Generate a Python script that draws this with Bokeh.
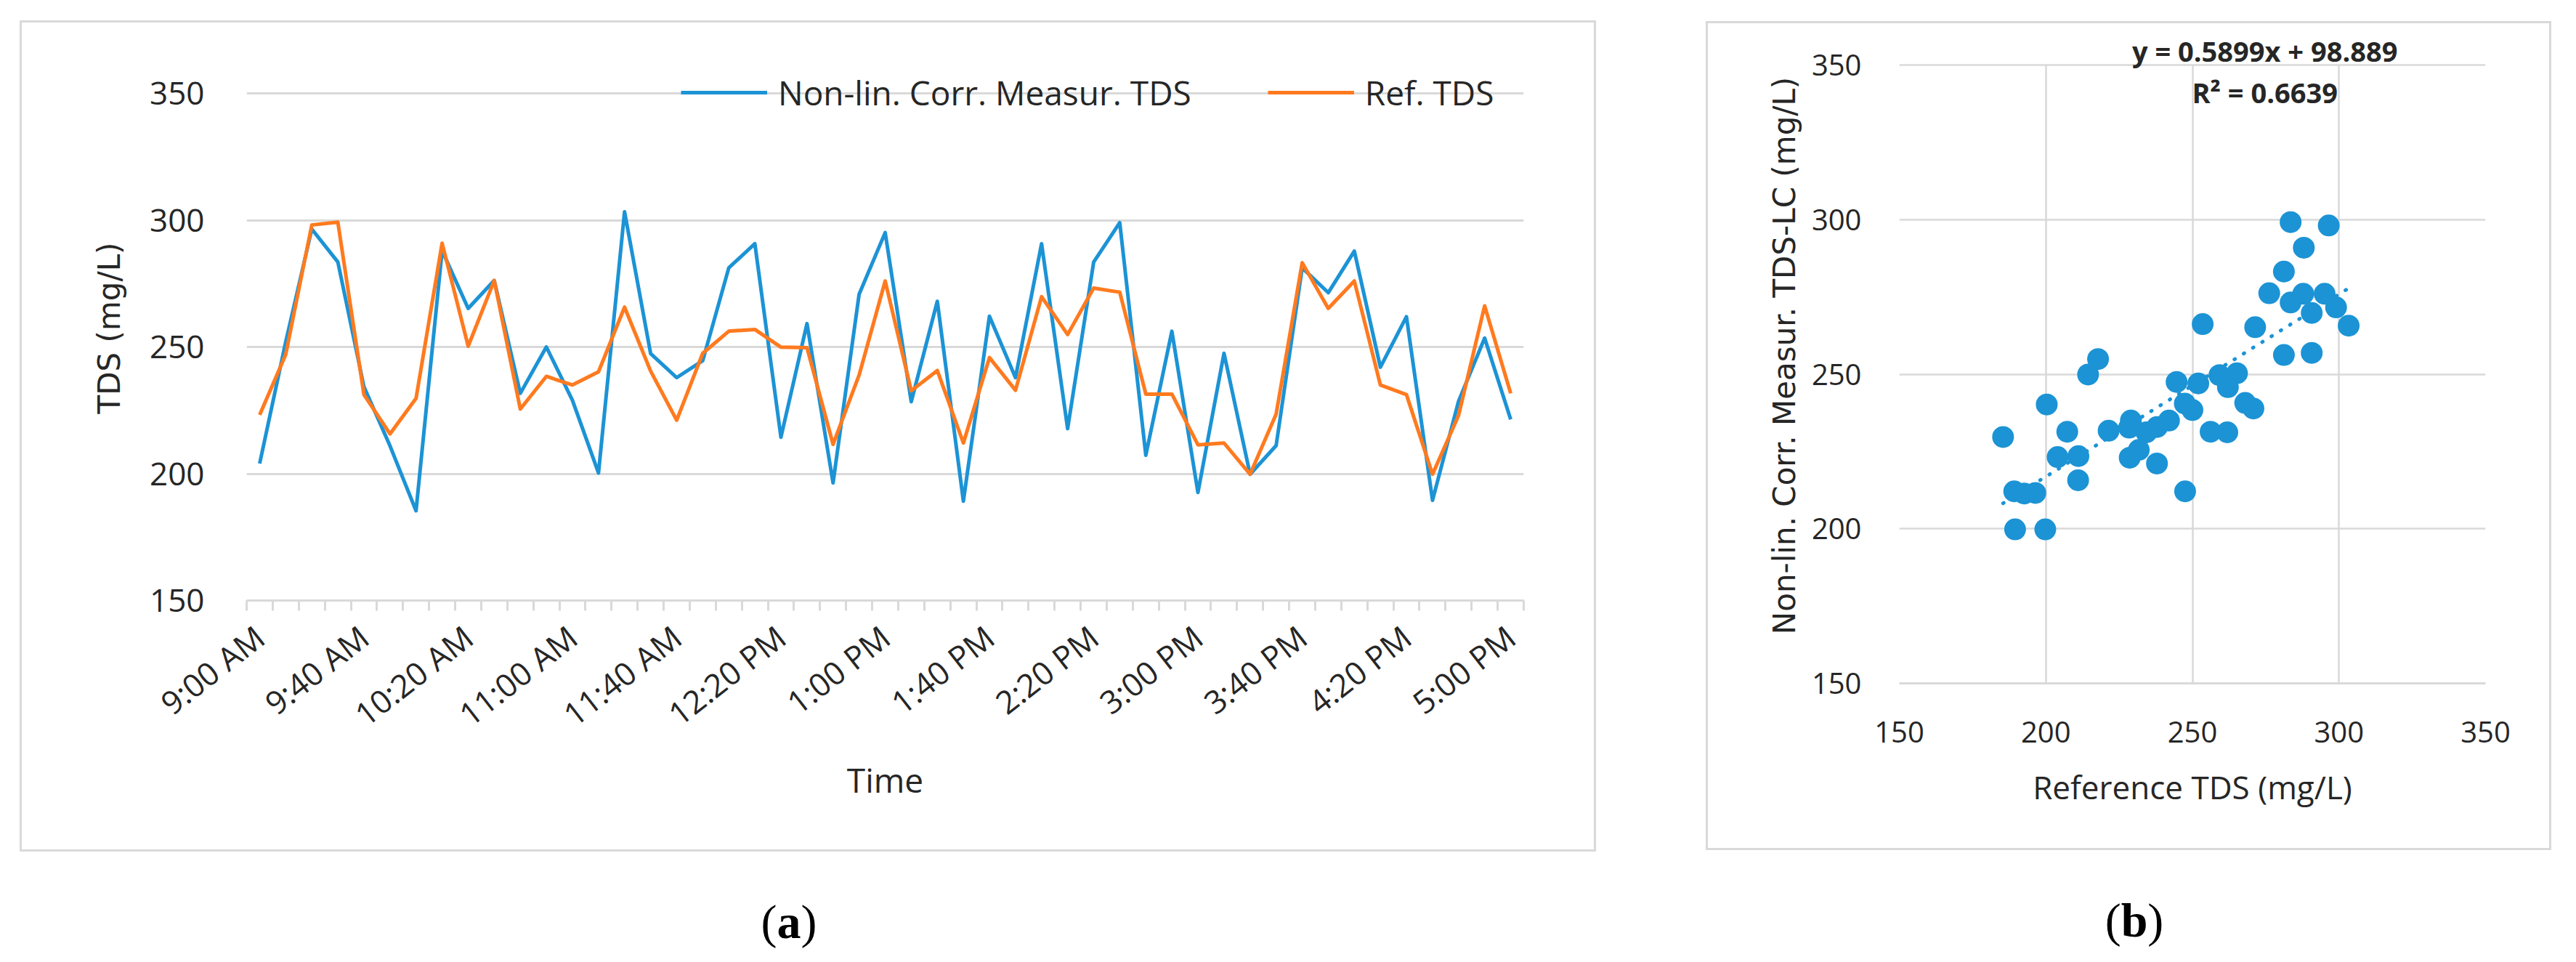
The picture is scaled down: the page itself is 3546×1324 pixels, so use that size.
import math
from bokeh.plotting import figure
from bokeh.models import (FixedTicker, Legend, LegendItem, Label, Div, Spacer, Range1d)
from bokeh.layouts import row, column
from bokeh.embed import file_html
from bokeh.resources import INLINE

# ---------------- data ----------------
times = ["9:00 AM", "9:10 AM", "9:20 AM", "9:30 AM", "9:40 AM", "9:50 AM",
         "10:00 AM", "10:10 AM", "10:20 AM", "10:30 AM", "10:40 AM", "10:50 AM",
         "11:00 AM", "11:10 AM", "11:20 AM", "11:30 AM", "11:40 AM", "11:50 AM",
         "12:00 PM", "12:10 PM", "12:20 PM", "12:30 PM", "12:40 PM", "12:50 PM",
         "1:00 PM", "1:10 PM", "1:20 PM", "1:30 PM", "1:40 PM", "1:50 PM",
         "2:00 PM", "2:10 PM", "2:20 PM", "2:30 PM", "2:40 PM", "2:50 PM",
         "3:00 PM", "3:10 PM", "3:20 PM", "3:30 PM", "3:40 PM", "3:50 PM",
         "4:00 PM", "4:10 PM", "4:20 PM", "4:30 PM", "4:40 PM", "4:50 PM",
         "5:00 PM"]

tick_labels = ["9:00 AM", "9:40 AM", "10:20 AM", "11:00 AM", "11:40 AM", "12:20 PM",
               "1:00 PM", "1:40 PM", "2:20 PM", "3:00 PM", "3:40 PM", "4:20 PM", "5:00 PM"]

# Non-lin. Corr. Measur. TDS (mg/L)
measured = [204.0, 252.0, 296.5, 283.5, 234.3, 211.0, 185.4, 288.0, 265.2, 276.2,
            231.7, 250.0, 229.0, 200.3, 303.3, 247.4, 237.9, 244.6, 281.2, 290.7,
            214.4, 259.2, 196.4, 270.8, 295.1, 228.4, 268.0, 189.2, 262.1, 237.9,
            290.7, 217.8, 283.5, 299.0, 207.3, 256.2, 192.6, 247.5, 199.8, 211.1,
            281.2, 271.4, 287.8, 242.0, 261.9, 189.5, 228.6, 253.5, 221.4]

# Ref. TDS (mg/L)
reference = [223.2, 247.0, 298.1, 299.2, 231.2, 215.7, 229.7, 290.9, 250.3, 276.2,
             225.5, 238.4, 235.0, 240.2, 265.7, 240.5, 221.1, 247.5, 256.2, 256.9,
             249.9, 249.7, 211.6, 238.9, 276.0, 232.7, 240.7, 212.1, 245.8, 232.9,
             269.8, 254.9, 273.2, 271.6, 231.4, 231.4, 211.4, 212.1, 199.8, 223.5,
             283.2, 265.2, 276.0, 235.0, 231.2, 199.8, 223.0, 266.2, 231.7]

y_ticks = [150, 200, 250, 300, 350]
x_ticks_b = [150, 200, 250, 300, 350]

SLOPE = 0.5899
INTERCEPT = 98.889
R2 = 0.6639

# ---------------- styles ----------------
BLUE = "#1C93D5"
ORANGE = "#FF7A1F"
GRID = "#d9d9d9"
TXT = "#262626"
FONT = "Open Sans"
WIDE = "DejaVu Sans"

idx = list(range(len(times)))

# ---------------- panel (a) ----------------
# y range extended a little above 350 (no outline is drawn) so the legend sitting on
# the 350 gridline is not clipped by the frame
pa = figure(width=2170, height=1144,
            x_range=Range1d(-0.5, len(times) - 0.5), y_range=Range1d(150, 150 + 200 * 750 / 698),
            output_backend="svg", toolbar_location=None,
            min_border_left=309, min_border_right=103, min_border_top=45, min_border_bottom=349,
            styles={"border": "3px solid #d9d9d9"})
pa.outline_line_color = None
pa.background_fill_color = "white"
pa.border_fill_color = "white"

label_pos = [times.index(t) for t in tick_labels]
pa.xaxis.ticker = FixedTicker(ticks=label_pos, minor_ticks=[i - 0.5 for i in range(len(times) + 1)])
pa.xaxis.major_label_overrides = {p: t for p, t in zip(label_pos, tick_labels)}
pa.xaxis.major_label_orientation = math.radians(38)
pa.xaxis.major_tick_line_color = None
pa.xaxis.minor_tick_line_color = GRID
pa.xaxis.minor_tick_line_width = 3
pa.xaxis.minor_tick_out = 14
pa.xaxis.minor_tick_in = 0
pa.xaxis.axis_line_color = GRID
pa.xaxis.axis_line_width = 3
pa.xaxis.major_label_standoff = 30
pa.xaxis.major_label_text_font = FONT
pa.xaxis.major_label_text_font_size = "44px"
pa.xaxis.major_label_text_color = TXT
pa.xaxis.axis_label = "Time"
pa.xaxis.axis_label_text_font = FONT
pa.xaxis.axis_label_text_font_size = "46px"
pa.xaxis.axis_label_text_font_style = "normal"
pa.xaxis.axis_label_text_color = TXT
pa.xaxis.axis_label_standoff = 4

pa.yaxis.ticker = FixedTicker(ticks=y_ticks)
pa.yaxis.axis_line_color = None
pa.yaxis.major_tick_line_color = None
pa.yaxis.minor_tick_line_color = None
pa.yaxis.major_label_standoff = 52
pa.yaxis.major_label_text_font = FONT
pa.yaxis.major_label_text_font_size = "44px"
pa.yaxis.major_label_text_color = TXT
pa.yaxis.axis_label = "TDS (mg/L)"
pa.yaxis.axis_label_text_font = WIDE
pa.yaxis.axis_label_text_font_size = "42px"
pa.yaxis.axis_label_text_font_style = "normal"
pa.yaxis.axis_label_text_color = TXT
pa.yaxis.axis_label_standoff = 28

pa.xgrid.grid_line_color = None
pa.ygrid.grid_line_color = GRID
pa.ygrid.grid_line_width = 3

r_meas = pa.line(idx, measured, line_color=BLUE, line_width=5, line_join="round")
r_ref = pa.line(idx, reference, line_color=ORANGE, line_width=5, line_join="round")

leg = Legend(items=[LegendItem(label="Non-lin. Corr. Measur. TDS", renderers=[r_meas]),
                    LegendItem(label="Ref. TDS", renderers=[r_ref])],
             orientation="horizontal", location=(598, 668),
             padding=0, margin=0, spacing=105, label_standoff=15,
             glyph_width=119, glyph_height=40, label_height=40,
             background_fill_alpha=0, border_line_color=None,
             label_text_font=FONT, label_text_font_size="46px", label_text_color=TXT)
pa.add_layout(leg)

# ---------------- panel (b) ----------------
pb = figure(width=1164, height=1141,
            x_range=Range1d(150, 350), y_range=Range1d(150, 150 + 200 * 902 / 851),
            output_backend="svg", toolbar_location=None,
            min_border_left=263, min_border_right=94, min_border_top=6, min_border_bottom=233,
            styles={"border": "3px solid #d9d9d9"})
pb.outline_line_color = None
pb.border_fill_color = "white"

pb.xaxis.ticker = FixedTicker(ticks=x_ticks_b)
pb.yaxis.ticker = FixedTicker(ticks=y_ticks)
for ax in (pb.xaxis[0], pb.yaxis[0]):
    ax.major_tick_line_color = None
    ax.minor_tick_line_color = None
    ax.major_label_text_font = FONT
    ax.major_label_text_font_size = "40px"
    ax.major_label_text_color = TXT
    ax.axis_label_text_font_style = "normal"
    ax.axis_label_text_color = TXT
pb.xaxis.axis_line_color = GRID
pb.xaxis.axis_line_width = 3
pb.yaxis.axis_line_color = None
pb.xaxis.major_label_standoff = 46
pb.yaxis.major_label_standoff = 46
pb.xaxis.axis_label = "Reference TDS (mg/L)"
pb.xaxis.axis_label_text_font = FONT
pb.xaxis.axis_label_text_font_size = "44px"
pb.xaxis.axis_label_standoff = 28
pb.yaxis.axis_label = "Non-lin. Corr. Measur. TDS-LC (mg/L)"
pb.yaxis.axis_label_text_font = WIDE
pb.yaxis.axis_label_text_font_size = "42px"
pb.yaxis.axis_label_standoff = 10

pb.xgrid.grid_line_color = GRID
pb.xgrid.grid_line_width = 2.5
pb.ygrid.grid_line_color = GRID
pb.ygrid.grid_line_width = 2.5
try:
    pb.xgrid.cross_bounds = (150, 350)
except Exception:
    pass

pb.scatter(measured, reference, size=30, fill_color=BLUE, line_color=None)

tx = [min(measured), max(measured)]
ty = [SLOPE * v + INTERCEPT for v in tx]
pb.line(tx, ty, line_color=BLUE, line_width=5, line_dash="1 14", line_cap="round")

pb.add_layout(Label(x=274.7, y=354.7, text=f"y = {SLOPE}x + {INTERCEPT}",
                    text_align="center", text_baseline="middle",
                    text_font=FONT, text_font_style="bold", text_font_size="38px",
                    text_color=TXT))
pb.add_layout(Label(x=274.7, y=341.1, text=f"R\u00b2 = {R2}",
                    text_align="center", text_baseline="middle",
                    text_font=FONT, text_font_style="bold", text_font_size="38px",
                    text_color=TXT))

# ---------------- captions ----------------
def caption(letter, w):
    style = (f"width:{w}px;padding-top:54px;text-align:center;font-family:'Liberation Serif';"
             "font-size:66px;line-height:1.15;color:#000;")
    return Div(text=f'<div style="{style}">(<b>{letter}</b>)</div>', width=w, height=130)

div_a = caption("a", 2108)
div_b = caption("b", 1170)

col_a = column(Spacer(height=28), pa, div_a, spacing=0)
col_b = column(Spacer(height=29), pb, div_b, spacing=0)
layout = row(Spacer(width=27), col_a, Spacer(width=151), col_b, spacing=0)

open("out.html", "w").write(file_html(layout, INLINE))
